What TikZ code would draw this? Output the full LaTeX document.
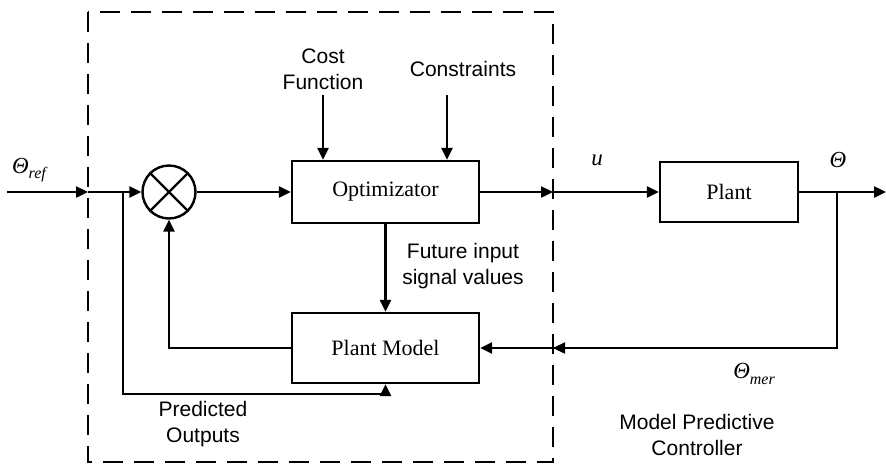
\documentclass[tikz,border=0pt]{standalone}
\usepackage{fontspec}
\setsansfont{Liberation Sans}
\newfontfamily\boxfont{Liberation Serif}
\usetikzlibrary{arrows.meta}
\newcommand{\symb}[2]{{\boxfont\itshape\fontsize{23}{26}\selectfont #1\raisebox{-0.25em}{\fontsize{16}{16}\selectfont #2}}}
\begin{document}
\begin{tikzpicture}[x=1pt,y=-1pt,
  line width=2.4pt,
  arr/.style={-{Triangle[length=12pt,width=11pt]}},
  blk/.style={draw, rectangle, inner sep=0pt, font=\boxfont\fontsize{22}{26}\selectfont},
  lbl/.style={font=\sffamily\fontsize{21}{26}\selectfont, align=center, inner sep=0pt},
  mlbl/.style={inner sep=0pt}]
\useasboundingbox (0,0) rectangle (886,464);
% dashed controller boundary
\draw[dash pattern=on 20pt off 11pt] (88,12) rectangle (553,462);
% blocks
\node[draw, circle, minimum size=53pt, inner sep=0pt] (sum) at (169,192) {};
\draw (sum.north east) -- (sum.south west);
\draw (sum.north west) -- (sum.south east);
\node[blk, minimum width=187pt, minimum height=62pt] (opt) at (385.5,192) {Optimizator};
\node[blk, minimum width=138pt, minimum height=60pt] (plant) at (729,192) {Plant};
\node[blk, minimum width=187pt, minimum height=70pt] (pm) at (385.5,348) {Plant Model};
% coordinates
\coordinate (in) at (7,192);
\coordinate (dl) at (88,192);
\coordinate (b1) at (123,192);
\coordinate (pb) at (385.5,394);
\coordinate (dr) at (553,192);
\coordinate (out) at (886,192);
\coordinate (b2) at (837,192);
\coordinate (fb) at (837,348);
\coordinate (dr2) at (553,348);
\coordinate (fl) at (169,348);
\coordinate (cs) at (323,95);
\coordinate (cn) at (447,95);
% connectors
\draw[arr] (in) -- (dl);
\draw[arr] (dl) -- (sum.west);
\draw (b1) -- (pb -| b1) -- (pb);
\draw[arr] (pb) -- (pm.south);
\draw[arr] (sum.east) -- (opt.west);
\draw[arr] (cs) -- (cs |- opt.north);
\draw[arr] (cn) -- (cn |- opt.north);
\draw[arr] (opt.east) -- (dr);
\draw[arr] (dr) -- (plant.west);
\draw[arr] (plant.east) -- (out);
\draw (b2) -- (fb) -- (dr2);
\draw[arr] (fb) -- (dr2);
\draw[arr] (dr2) -- (pm.east);
\draw[arr] (opt.south) -- (pm.north);
\draw[arr] (pm.west) -- (fl) -- (sum.south);
% labels
\node[mlbl] (tref) at (29,170) {\symb{Θ}{ref}};
\node[lbl] (cost) at (323,69) {Cost\\Function};
\node[lbl] (cons) at (463,69) {Constraints};
\node[mlbl] (ul) at (597,163) {\symb{u}{}};
\node[mlbl] (th) at (838,163) {\symb{Θ}{}};
\node[lbl] (fut) at (463,266) {Future input\\signal values};
\node[mlbl] (tmer) at (754,374) {\symb{Θ}{mer}};
\node[lbl] (pred) at (203,424) {Predicted\\Outputs};
\node[lbl] (mpc) at (697,435) {Model Predictive\\Controller};
\end{tikzpicture}
\end{document}
